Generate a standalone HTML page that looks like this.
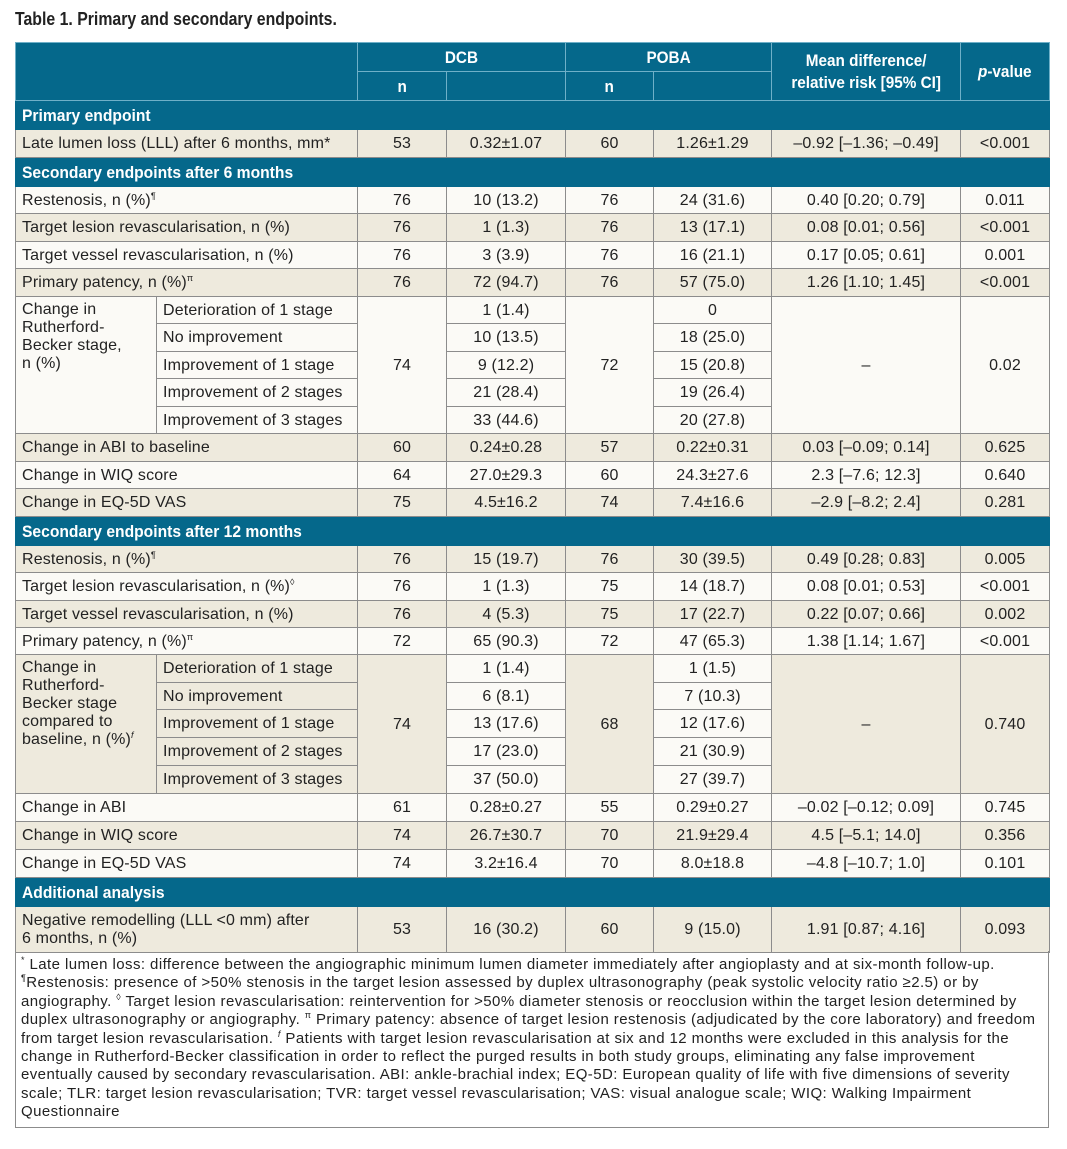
<!DOCTYPE html>
<html><head><meta charset="utf-8"><style>
body{margin:0;background:#fff;width:1067px;height:1149px;position:relative;font-family:"Liberation Sans",sans-serif;color:#222}
.title{position:absolute;left:15px;top:9px;font-weight:bold;font-size:18px;white-space:nowrap}
.title .sx{transform:scaleX(.88)}
.sx{display:inline-block;transform:scaleX(.92);transform-origin:left center;white-space:nowrap}
.sxc{display:inline-block;transform:scaleX(.9);transform-origin:center center;white-space:nowrap}
table{position:absolute;left:15px;top:42px;border-collapse:collapse;table-layout:fixed;width:1034px}
td{border:1px solid #8c8c8c;font-size:16px;letter-spacing:.15px;padding:1px 6px 0 6px;white-space:nowrap;overflow:hidden;vertical-align:middle;line-height:18px}
td.c{text-align:center}
tr.h td{background:#05688b;color:#fff;font-weight:bold;font-size:17px;letter-spacing:0;border-color:#6fb0c8}
tr.b td{background:#05688b;color:#fff;font-weight:bold;font-size:17px;letter-spacing:0;border-color:#05688b}
tr.k td{background:#eeeadd}
tr.w td{background:#fbfaf6}
td.k{background:#eeeadd !important}
td.w{background:#fbfaf6 !important}
sup{font-size:9px;vertical-align:6px;line-height:0}
.fn{position:absolute;left:15px;top:951px;width:1034px;height:177px;border:1px solid #8c8c8c;border-top:none;font-size:15px;letter-spacing:.42px;line-height:18.4px;box-sizing:border-box;padding:5px 0 0 5px;white-space:nowrap;overflow:hidden}
</style></head><body>
<div class="title"><span class="sx">Table 1. Primary and secondary endpoints.</span></div>
<table>
<colgroup><col style="width:141px"><col style="width:201px"><col style="width:89px"><col style="width:119px"><col style="width:88px"><col style="width:118px"><col style="width:189px"><col style="width:89px"></colgroup>
<tr class="h" style="height:29px"><td colspan="2" rowspan="2"></td><td colspan="2" class="c"><span class="sxc">DCB</span></td><td colspan="2" class="c"><span class="sxc">POBA</span></td><td rowspan="2" class="c" style="line-height:22px"><span class="sxc">Mean difference/<br>relative risk [95% CI]</span></td><td rowspan="2" class="c"><span class="sxc"><i>p</i>-value</span></td></tr>
<tr class="h" style="height:29px"><td class="c"><span class="sxc">n</span></td><td></td><td class="c"><span class="sxc">n</span></td><td></td></tr>
<tr class="b" style="height:29px"><td colspan="8"><span class="sx">Primary endpoint</span></td></tr>
<tr class="k" style="height:28px"><td colspan="2">Late lumen loss (LLL) after 6 months, mm*</td><td class="c">53</td><td class="c">0.32±1.07</td><td class="c">60</td><td class="c">1.26±1.29</td><td class="c">–0.92 [–1.36; –0.49]</td><td class="c">&lt;0.001</td></tr>
<tr class="b" style="height:29px"><td colspan="8"><span class="sx">Secondary endpoints after 6 months</span></td></tr>
<tr class="w" style="height:27px"><td colspan="2">Restenosis, n (%)<sup>¶</sup></td><td class="c">76</td><td class="c">10 (13.2)</td><td class="c">76</td><td class="c">24 (31.6)</td><td class="c">0.40 [0.20; 0.79]</td><td class="c">0.011</td></tr>
<tr class="k" style="height:28px"><td colspan="2">Target lesion revascularisation, n (%)</td><td class="c">76</td><td class="c">1 (1.3)</td><td class="c">76</td><td class="c">13 (17.1)</td><td class="c">0.08 [0.01; 0.56]</td><td class="c">&lt;0.001</td></tr>
<tr class="w" style="height:27px"><td colspan="2">Target vessel revascularisation, n (%)</td><td class="c">76</td><td class="c">3 (3.9)</td><td class="c">76</td><td class="c">16 (21.1)</td><td class="c">0.17 [0.05; 0.61]</td><td class="c">0.001</td></tr>
<tr class="k" style="height:28px"><td colspan="2">Primary patency, n (%)<sup>π</sup></td><td class="c">76</td><td class="c">72 (94.7)</td><td class="c">76</td><td class="c">57 (75.0)</td><td class="c">1.26 [1.10; 1.45]</td><td class="c">&lt;0.001</td></tr>
<tr class="w" style="height:27px"><td rowspan="5" style="vertical-align:top;padding-top:4px">Change in<br>Rutherford-<br>Becker stage,<br>n (%)</td><td>Deterioration of 1 stage</td><td rowspan="5" class="c">74</td><td class="c">1 (1.4)</td><td rowspan="5" class="c">72</td><td class="c">0</td><td rowspan="5" class="c">–</td><td rowspan="5" class="c">0.02</td></tr>
<tr class="w" style="height:28px"><td>No improvement</td><td class="c">10 (13.5)</td><td class="c">18 (25.0)</td></tr>
<tr class="w" style="height:27px"><td>Improvement of 1 stage</td><td class="c">9 (12.2)</td><td class="c">15 (20.8)</td></tr>
<tr class="w" style="height:28px"><td>Improvement of 2 stages</td><td class="c">21 (28.4)</td><td class="c">19 (26.4)</td></tr>
<tr class="w" style="height:27px"><td>Improvement of 3 stages</td><td class="c">33 (44.6)</td><td class="c">20 (27.8)</td></tr>
<tr class="k" style="height:28px"><td colspan="2">Change in ABI to baseline</td><td class="c">60</td><td class="c">0.24±0.28</td><td class="c">57</td><td class="c">0.22±0.31</td><td class="c">0.03 [–0.09; 0.14]</td><td class="c">0.625</td></tr>
<tr class="w" style="height:27px"><td colspan="2">Change in WIQ score</td><td class="c">64</td><td class="c">27.0±29.3</td><td class="c">60</td><td class="c">24.3±27.6</td><td class="c">2.3 [–7.6; 12.3]</td><td class="c">0.640</td></tr>
<tr class="k" style="height:28px"><td colspan="2">Change in EQ-5D VAS</td><td class="c">75</td><td class="c">4.5±16.2</td><td class="c">74</td><td class="c">7.4±16.6</td><td class="c">–2.9 [–8.2; 2.4]</td><td class="c">0.281</td></tr>
<tr class="b" style="height:29px"><td colspan="8"><span class="sx">Secondary endpoints after 12 months</span></td></tr>
<tr class="k" style="height:27px"><td colspan="2">Restenosis, n (%)<sup>¶</sup></td><td class="c">76</td><td class="c">15 (19.7)</td><td class="c">76</td><td class="c">30 (39.5)</td><td class="c">0.49 [0.28; 0.83]</td><td class="c">0.005</td></tr>
<tr class="w" style="height:28px"><td colspan="2">Target lesion revascularisation, n (%)<sup>◊</sup></td><td class="c">76</td><td class="c">1 (1.3)</td><td class="c">75</td><td class="c">14 (18.7)</td><td class="c">0.08 [0.01; 0.53]</td><td class="c">&lt;0.001</td></tr>
<tr class="k" style="height:27px"><td colspan="2">Target vessel revascularisation, n (%)</td><td class="c">76</td><td class="c">4 (5.3)</td><td class="c">75</td><td class="c">17 (22.7)</td><td class="c">0.22 [0.07; 0.66]</td><td class="c">0.002</td></tr>
<tr class="w" style="height:27px"><td colspan="2">Primary patency, n (%)<sup>π</sup></td><td class="c">72</td><td class="c">65 (90.3)</td><td class="c">72</td><td class="c">47 (65.3)</td><td class="c">1.38 [1.14; 1.67]</td><td class="c">&lt;0.001</td></tr>
<tr class="k" style="height:28px"><td rowspan="5" style="vertical-align:top;padding-top:4px">Change in<br>Rutherford-<br>Becker stage<br>compared to<br>baseline, n (%)<sup><i>f</i></sup></td><td>Deterioration of 1 stage</td><td rowspan="5" class="c">74</td><td class="c w">1 (1.4)</td><td rowspan="5" class="c">68</td><td class="c w">1 (1.5)</td><td rowspan="5" class="c">–</td><td rowspan="5" class="c">0.740</td></tr>
<tr class="k" style="height:27px"><td>No improvement</td><td class="c w">6 (8.1)</td><td class="c w">7 (10.3)</td></tr>
<tr class="k" style="height:28px"><td>Improvement of 1 stage</td><td class="c w">13 (17.6)</td><td class="c w">12 (17.6)</td></tr>
<tr class="k" style="height:28px"><td>Improvement of 2 stages</td><td class="c w">17 (23.0)</td><td class="c w">21 (30.9)</td></tr>
<tr class="k" style="height:28px"><td>Improvement of 3 stages</td><td class="c w">37 (50.0)</td><td class="c w">27 (39.7)</td></tr>
<tr class="w" style="height:28px"><td colspan="2">Change in ABI</td><td class="c">61</td><td class="c">0.28±0.27</td><td class="c">55</td><td class="c">0.29±0.27</td><td class="c">–0.02 [–0.12; 0.09]</td><td class="c">0.745</td></tr>
<tr class="k" style="height:28px"><td colspan="2">Change in WIQ score</td><td class="c">74</td><td class="c">26.7±30.7</td><td class="c">70</td><td class="c">21.9±29.4</td><td class="c">4.5 [–5.1; 14.0]</td><td class="c">0.356</td></tr>
<tr class="w" style="height:28px"><td colspan="2">Change in EQ-5D VAS</td><td class="c">74</td><td class="c">3.2±16.4</td><td class="c">70</td><td class="c">8.0±18.8</td><td class="c">–4.8 [–10.7; 1.0]</td><td class="c">0.101</td></tr>
<tr class="b" style="height:29px"><td colspan="8"><span class="sx">Additional analysis</span></td></tr>
<tr class="k" style="height:46px"><td colspan="2">Negative remodelling (LLL &lt;0 mm) after<br>6 months, n (%)</td><td class="c">53</td><td class="c">16 (30.2)</td><td class="c">60</td><td class="c">9 (15.0)</td><td class="c">1.91 [0.87; 4.16]</td><td class="c">0.093</td></tr>
</table>
<div class="fn">
<div><sup>*</sup> Late lumen loss: difference between the angiographic minimum lumen diameter immediately after angioplasty and at six-month follow-up.</div>
<div><sup>¶</sup>Restenosis: presence of &gt;50% stenosis in the target lesion assessed by duplex ultrasonography (peak systolic velocity ratio ≥2.5) or by</div>
<div>angiography. <sup>◊</sup> Target lesion revascularisation: reintervention for &gt;50% diameter stenosis or reocclusion within the target lesion determined by</div>
<div>duplex ultrasonography or angiography. <sup>π</sup> Primary patency: absence of target lesion restenosis (adjudicated by the core laboratory) and freedom</div>
<div>from target lesion revascularisation. <sup><i>f</i></sup> Patients with target lesion revascularisation at six and 12 months were excluded in this analysis for the</div>
<div>change in Rutherford-Becker classification in order to reflect the purged results in both study groups, eliminating any false improvement</div>
<div>eventually caused by secondary revascularisation. ABI: ankle-brachial index; EQ-5D: European quality of life with five dimensions of severity</div>
<div>scale; TLR: target lesion revascularisation; TVR: target vessel revascularisation; VAS: visual analogue scale; WIQ: Walking Impairment</div>
<div>Questionnaire</div>
</div>
</body></html>
